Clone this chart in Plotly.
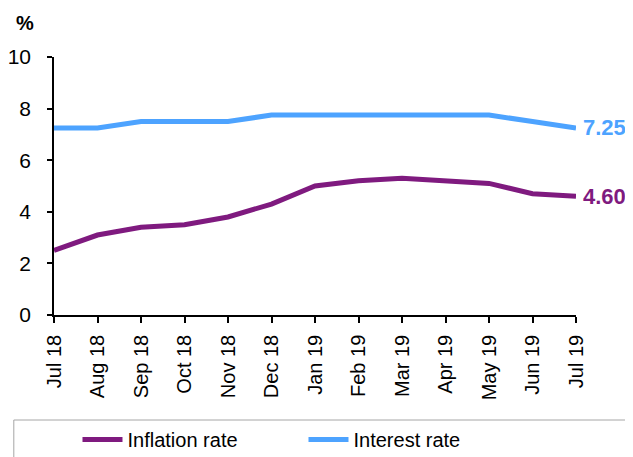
import plotly.graph_objects as go

months = ["Jul 18", "Aug 18", "Sep 18", "Oct 18", "Nov 18", "Dec 18", "Jan 19",
          "Feb 19", "Mar 19", "Apr 19", "May 19", "Jun 19", "Jul 19"]
inflation = [2.5, 3.1, 3.4, 3.5, 3.8, 4.3, 5.0, 5.2, 5.3, 5.2, 5.1, 4.7, 4.6]
interest = [7.25, 7.25, 7.5, 7.5, 7.5, 7.75, 7.75, 7.75, 7.75, 7.75, 7.75, 7.5, 7.25]
y_ticks = [0, 2, 4, 6, 8, 10]

PURPLE = "#7F1A7F"
BLUE = "#4DA3FF"
FONT = "Liberation Sans, Arial, sans-serif"

fig = go.Figure()
fig.add_trace(go.Scatter(x=months, y=inflation, mode="lines", name="Inflation rate",
                         line=dict(color=PURPLE, width=5)))
fig.add_trace(go.Scatter(x=months, y=interest, mode="lines", name="Interest rate",
                         line=dict(color=BLUE, width=5)))

fig.add_annotation(x=months[-1], y=interest[-1], text="<b>%.2f</b>" % interest[-1],
                   showarrow=False, xanchor="left", xshift=5,
                   font=dict(color=BLUE, size=22, family=FONT))
fig.add_annotation(x=months[-1], y=inflation[-1], text="<b>%.2f</b>" % inflation[-1],
                   showarrow=False, xanchor="left", xshift=5,
                   font=dict(color=PURPLE, size=22, family=FONT))
fig.add_annotation(xref="paper", yref="paper", x=-0.056, y=1.13, text="<b>%</b>",
                   showarrow=False, xanchor="center", yanchor="middle",
                   font=dict(color="black", size=20, family=FONT))

# legend frame
fig.add_shape(type="rect", xref="paper", yref="paper",
              x0=-0.077, x1=1.12, y0=-0.6, y1=-0.407,
              line=dict(color="#A6A6A6", width=1), fillcolor="white", layer="below")

fig.update_layout(
    width=633, height=457,
    margin=dict(l=46, r=65, t=49, b=150),
    paper_bgcolor="white", plot_bgcolor="white",
    font=dict(family=FONT, color="black", size=20),
    showlegend=True,
    legend=dict(orientation="h", x=0.045, xanchor="left", xref="paper",
                y=0.0985, yanchor="top", yref="container",
                font=dict(size=20, family=FONT), entrywidth=171, entrywidthmode="pixels",
                bgcolor="rgba(0,0,0,0)", itemwidth=40),
    xaxis=dict(type="category", range=[0, 12], tickangle=-90, automargin=False,
               showline=True, linecolor="black", linewidth=1.5,
               ticks="outside", ticklen=6, tickcolor="black", tickwidth=1.5,
               showgrid=False, zeroline=False, tickfont=dict(size=20),
               ticklabelstandoff=4),
    yaxis=dict(range=[0, 10], tickvals=y_ticks, automargin=False,
               showline=True, linecolor="black", linewidth=1.5,
               ticks="outside", ticklen=5, tickcolor="black", tickwidth=1.5,
               showgrid=False, zeroline=False, tickfont=dict(size=21),
               ticklabelstandoff=12),
)

fig.write_html("out.html")
